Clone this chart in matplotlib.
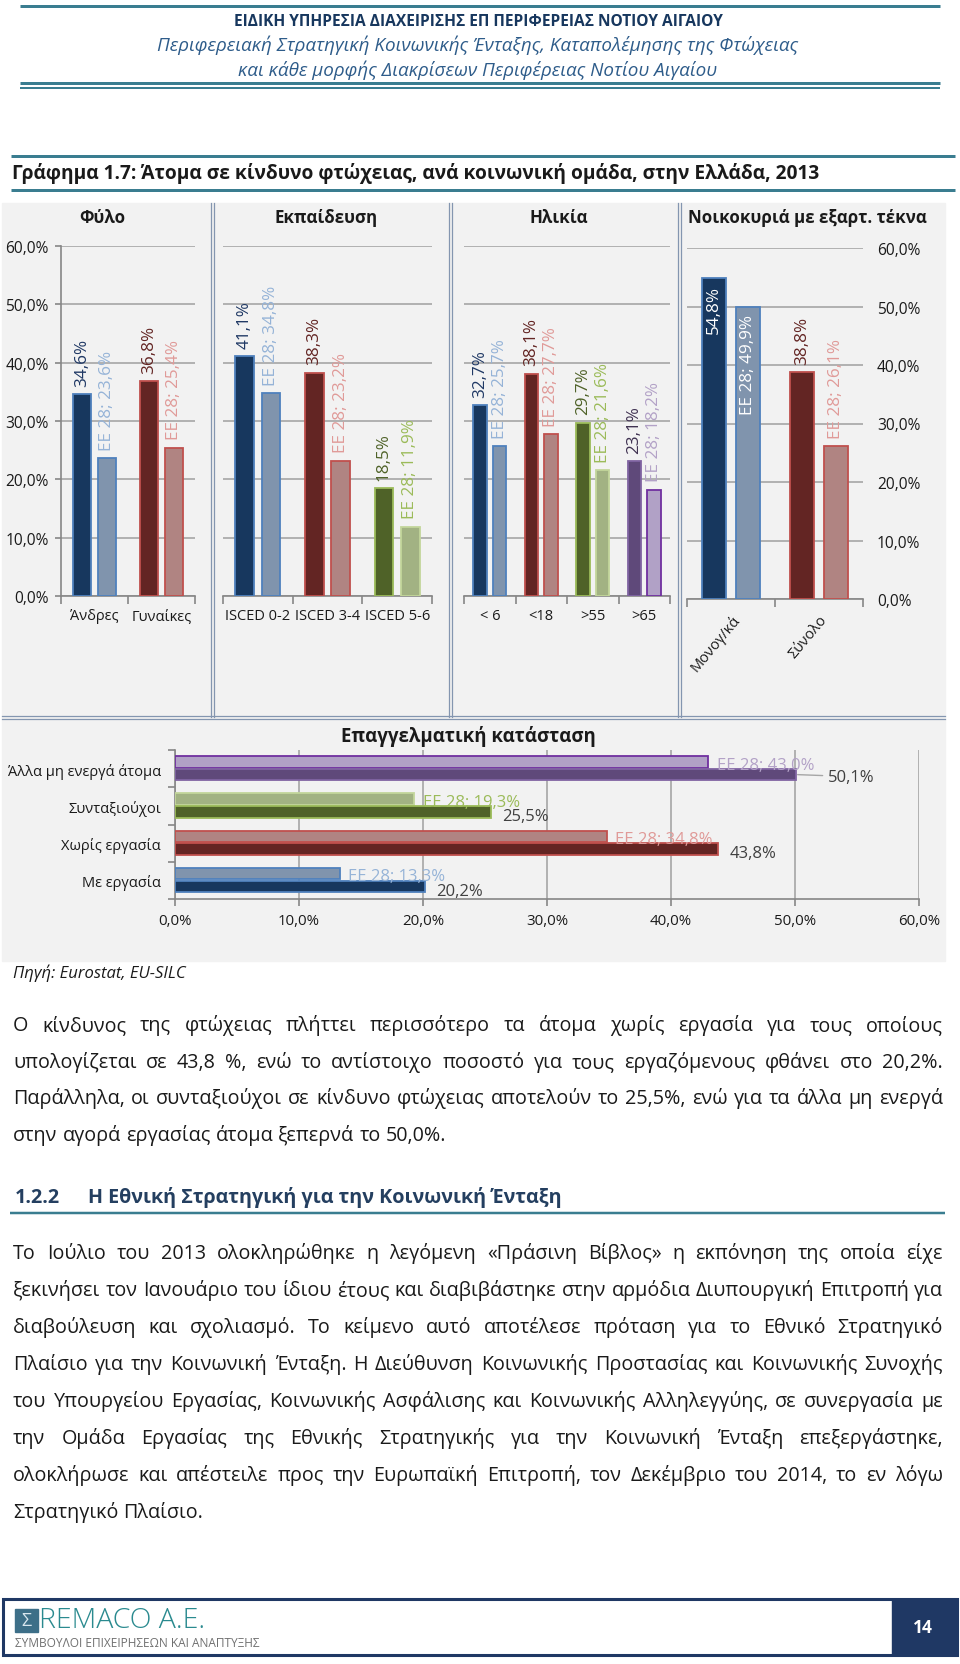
import numpy as np
import matplotlib.pyplot as plt
from matplotlib.patches import Rectangle
from matplotlib.ticker import FuncFormatter

plt.rcParams['font.family'] = ['Open Sans', 'DejaVu Sans']

W, H = 960, 1665

# ---- Δεδομένα (Ελλάδα / ΕΕ 28) ----
sex_labels = ['Άνδρες', 'Γυναίκες']
sex_gr = [34.6, 36.8]
sex_eu = [23.6, 25.4]

edu_labels = ['ISCED 0-2', 'ISCED 3-4', 'ISCED 5-6']
edu_gr = [41.1, 38.3, 18.5]
edu_eu = [34.8, 23.2, 11.9]

age_labels = ['< 6', '<18', '>55', '>65']
age_gr = [32.7, 38.1, 29.7, 23.1]
age_eu = [25.7, 27.7, 21.6, 18.2]

hh_labels = ['Μονογ/κά', 'Σύνολο']
hh_gr = [54.8, 38.8]
hh_eu = [49.9, 26.1]

work_labels = ['Με εργασία', 'Χωρίς εργασία', 'Συνταξιούχοι', 'Άλλα μη ενεργά άτομα']
work_gr = [20.2, 43.8, 25.5, 50.1]
work_eu = [13.3, 34.8, 19.3, 43.0]

# χρώματα ανά κατηγορία: μπλε, κόκκινο, πράσινο, μωβ
dark_fill = ['#17375e', '#632523', '#4f6228', '#5f497a']
dark_edge = ['#4f81bd', '#c0504d', '#9bbb59', '#8064a2']
light_fill = ['#8094ad', '#b08482', '#a2b283', '#b1a1c6']
light_edge = ['#4f81bd', '#c0504d', '#c3d69b', '#7030a0']
gr_text = ['#1f3864', '#632523', '#4f6228', '#3f3151']
eu_text = ['#95b3d7', '#e09a98', '#9bbb59', '#b3a2c7']

GRID = '#a6a6a6'
AXC = '#868686'
TEAL = '#3a7d90'
SEP = '#8496b0'
TXT = '#1a1a1a'


def pct(v, pos=None):
    return f'{v:.1f}%'.replace('.', ',')


fig = plt.figure(figsize=(W / 100, H / 100), dpi=100)

# σελίδα σε συντεταγμένες pixel
page = fig.add_axes([0, 0, 1, 1])
page.set_xlim(0, W)
page.set_ylim(H, 0)
page.axis('off')


def hline(y, x0, x1, lw, color=TEAL):
    page.plot([x0, x1], [y, y], color=color, lw=lw / 1.389, solid_capstyle='butt')


# κεφαλίδα
hline(7, 20, 940, 3)
page.text(478, 22, 'ΕΙΔΙΚΗ ΥΠΗΡΕΣΙΑ ΔΙΑΧΕΙΡΙΣΗΣ ΕΠ ΠΕΡΙΦΕΡΕΙΑΣ ΝΟΤΙΟΥ ΑΙΓΑΙΟΥ',
          ha='center', va='center', fontsize=11.2, fontweight='bold', color='#17375e')
page.text(478, 45, 'Περιφερειακή Στρατηγική Κοινωνικής Ένταξης, Καταπολέμησης της Φτώχειας',
          ha='center', va='center', fontsize=13.6, style='italic', color='#2e5c8a')
page.text(478, 70, 'και κάθε μορφής Διακρίσεων Περιφέρειας Νοτίου Αιγαίου',
          ha='center', va='center', fontsize=13.6, style='italic', color='#2e5c8a')
hline(84, 20, 940, 3)
hline(88.5, 20, 940, 2)

# τίτλος γραφήματος
hline(157, 11, 955, 3)
page.text(12, 174, 'Γράφημα 1.7: Άτομα σε κίνδυνο φτώχειας, ανά κοινωνική ομάδα, στην Ελλάδα, 2013',
          ha='left', va='center', fontsize=13.8, fontweight='bold', color=TXT)
hline(191, 11, 955, 3)

# γκρι φόντο γραφήματος
page.add_patch(Rectangle((2, 204), 943, 758, color='#f2f2f2', zorder=0))
for xs in [212, 450, 679]:
    for dx in (-1.5, 1.5):
        page.plot([xs + dx, xs + dx], [204, 718], color=SEP, lw=0.9)
for dy in (-1.5, 1.5):
    page.plot([2, 945], [718 + dy, 718 + dy], color=SEP, lw=0.9)

for x, t in [(102, 'Φύλο'), (326, 'Εκπαίδευση'), (559, 'Ηλικία'), (807, 'Νοικοκυριά με εξαρτ. τέκνα')]:
    page.text(x, 218, t, ha='center', va='center', fontsize=12.2, fontweight='bold', color=TXT)


def px_axes(x0, y0, x1, y1):
    ax = fig.add_axes([x0 / W, 1 - y1 / H, (x1 - x0) / W, (y1 - y0) / H])
    ax.patch.set_visible(False)
    return ax


def vbar_panel(box, labels, gr, eu, side=None, rotate=False):
    ax = px_axes(*box)
    n = len(labels)
    idx = np.arange(n)
    for i in idx:
        ax.bar(i - 0.19, gr[i], 0.27, color=dark_fill[i], edgecolor=dark_edge[i], lw=1.3, zorder=3)
        ax.bar(i + 0.19, eu[i], 0.27, color=light_fill[i], edgecolor=light_edge[i], lw=1.3, zorder=3)
        for x, v, t, c in [(i - 0.19, gr[i], pct(gr[i]), gr_text[i]),
                           (i + 0.19, eu[i], 'ΕΕ 28; ' + pct(eu[i]), eu_text[i])]:
            if v > 45:
                ax.annotate(t, (x, v), xytext=(0, -5), textcoords='offset points', rotation=90,
                            ha='center', va='top', fontsize=12.3, color='white', zorder=4)
            else:
                ax.annotate(t, (x, v), xytext=(0, 6), textcoords='offset points', rotation=90,
                            ha='center', va='bottom', fontsize=12.3, color=c, zorder=4)
    ax.set_xlim(-0.5, n - 0.5)
    ax.set_ylim(0, 60)
    ax.set_yticks(np.arange(0, 61, 10))
    ax.yaxis.set_major_formatter(FuncFormatter(pct))
    ax.set_axisbelow(True)
    ax.grid(axis='y', color=GRID, lw=1.2)
    for s in ['top', 'right', 'left']:
        ax.spines[s].set_visible(False)
    ax.spines['bottom'].set_color(AXC)
    ax.spines['bottom'].set_linewidth(1.2)
    ax.set_xticks(idx)
    ax.set_xticklabels(labels, fontsize=10.5, color=TXT)
    ax.set_xticks(np.arange(n + 1) - 0.5, minor=True)
    ax.tick_params(axis='x', which='major', length=0, pad=9)
    ax.tick_params(axis='x', which='minor', length=6, color=AXC, width=1.2)
    if rotate:
        plt.setp(ax.get_xticklabels(), rotation=50, ha='right', rotation_mode='anchor')
    ax.tick_params(axis='y', labelsize=11.2, labelcolor=TXT)
    if side == 'left':
        ax.spines['left'].set_visible(True)
        ax.spines['left'].set_color(AXC)
        ax.spines['left'].set_linewidth(1.2)
        ax.tick_params(axis='y', length=4, color=AXC, width=1.2, pad=5)
    elif side == 'right':
        ax.yaxis.tick_right()
        ax.tick_params(axis='y', length=0, pad=10)
    else:
        ax.tick_params(axis='y', length=0, labelleft=False)
    return ax


vbar_panel((61, 247, 195, 597), sex_labels, sex_gr, sex_eu, side='left')
vbar_panel((223, 247, 432, 597), edu_labels, edu_gr, edu_eu)
vbar_panel((464, 247, 670, 597), age_labels, age_gr, age_eu)
vbar_panel((687, 249, 863, 600), hh_labels, hh_gr, hh_eu, side='right', rotate=True)

# ---- Επαγγελματική κατάσταση (οριζόντιες μπάρες) ----
page.text(468, 737, 'Επαγγελματική κατάσταση', ha='center', va='center',
          fontsize=13.4, fontweight='bold', color=TXT)
bx = px_axes(175, 751, 919, 900)
ny = len(work_labels)
for i in range(ny):
    bx.barh(i + 0.18, work_eu[i], 0.31, color=light_fill[i], edgecolor=light_edge[i], lw=1.3, zorder=3)
    bx.barh(i - 0.16, work_gr[i], 0.31, color=dark_fill[i], edgecolor=dark_edge[i], lw=1.3, zorder=3)
    bx.annotate('ΕΕ 28; ' + pct(work_eu[i]), (work_eu[i], i + 0.18), xytext=(6, -2),
                textcoords='offset points', ha='left', va='center', fontsize=12, color=eu_text[i], zorder=4)
    if i == ny - 1:
        bx.annotate(pct(work_gr[i]), (work_gr[i], i - 0.16), xytext=(23, -2),
                    textcoords='offset points', ha='left', va='center', fontsize=12, color='#404040',
                    arrowprops=dict(arrowstyle='-', color=GRID, lw=1, relpos=(0, 0.6),
                                    shrinkA=2, shrinkB=1), zorder=4)
    else:
        bx.annotate(pct(work_gr[i]), (work_gr[i], i - 0.16), xytext=(8, -3),
                    textcoords='offset points', ha='left', va='center', fontsize=12, color='#404040', zorder=4)
bx.set_xlim(0, 60)
bx.set_ylim(-0.5, ny - 0.5)
bx.set_xticks(np.arange(0, 61, 10))
bx.xaxis.set_major_formatter(FuncFormatter(pct))
bx.set_axisbelow(True)
bx.grid(axis='x', color=GRID, lw=1.2)
for s in ['top', 'right']:
    bx.spines[s].set_visible(False)
for s in ['bottom', 'left']:
    bx.spines[s].set_color(AXC)
    bx.spines[s].set_linewidth(1.2)
bx.set_yticks(np.arange(ny))
bx.set_yticklabels(work_labels, fontsize=10.5, color=TXT)
bx.set_yticks(np.arange(ny + 1) - 0.5, minor=True)
bx.tick_params(axis='y', which='major', length=0, pad=10)
bx.tick_params(axis='y', which='minor', length=5, color=AXC, width=1.2)
bx.tick_params(axis='x', length=5, color=AXC, width=1.2, pad=5, labelsize=10.8, labelcolor=TXT)

page.text(13, 973, 'Πηγή: Eurostat, EU-SILC', ha='left', va='center', fontsize=12,
          style='italic', color=TXT)

# ---- Κείμενο με πλήρη στοίχιση ----
X0, X1 = 13, 943
renderer = fig.canvas.get_renderer()


def justified(lines, y0, dy, size=14.2):
    for k, line in enumerate(lines):
        y = y0 + k * dy + 5
        words = line.split()
        texts = [page.text(0, y, w, ha='left', va='baseline', fontsize=size, color=TXT)
                 for w in words]
        widths = [t.get_window_extent(renderer).width for t in texts]
        space = 0.26 * size * 1.389
        last = k == len(lines) - 1
        # αν η γραμμή δεν χωράει, μικραίνει λίγο η γραμματοσειρά
        need = sum(widths) + space * (len(words) - 1)
        if need > X1 - X0:
            f = (X1 - X0) / need
            for t in texts:
                t.set_fontsize(size * f)
            widths = [t.get_window_extent(renderer).width for t in texts]
            space *= f
        gap = space if last else (X1 - X0 - sum(widths)) / (len(words) - 1)
        x = X0
        for t, w in zip(texts, widths):
            t.set_x(x)
            x += w + gap


para1 = [
    'Ο κίνδυνος της φτώχειας πλήττει περισσότερο τα άτομα χωρίς εργασία για τους οποίους',
    'υπολογίζεται σε 43,8 %, ενώ το αντίστοιχο ποσοστό για τους εργαζόμενους φθάνει στο 20,2%.',
    'Παράλληλα, οι συνταξιούχοι σε κίνδυνο φτώχειας αποτελούν το 25,5%, ενώ για τα άλλα  μη ενεργά',
    'στην αγορά εργασίας άτομα ξεπερνά το 50,0%.',
]
para2 = [
    'Το Ιούλιο του 2013 ολοκληρώθηκε η λεγόμενη «Πράσινη Βίβλος» η εκπόνηση της οποία είχε',
    'ξεκινήσει τον Ιανουάριο του ίδιου έτους και διαβιβάστηκε στην αρμόδια Διυπουργική Επιτροπή για',
    'διαβούλευση και σχολιασμό. Το κείμενο αυτό αποτέλεσε πρόταση για το Εθνικό Στρατηγικό',
    'Πλαίσιο για την Κοινωνική Ένταξη. Η Διεύθυνση Κοινωνικής Προστασίας και Κοινωνικής Συνοχής',
    'του Υπουργείου Εργασίας, Κοινωνικής Ασφάλισης και Κοινωνικής Αλληλεγγύης,  σε συνεργασία με',
    'την Ομάδα Εργασίας της Εθνικής Στρατηγικής για την Κοινωνική Ένταξη επεξεργάστηκε,',
    'ολοκλήρωσε και απέστειλε προς την Ευρωπαϊκή Επιτροπή, τον Δεκέμβριο του 2014, το εν λόγω',
    'Στρατηγικό Πλαίσιο.',
]
justified(para1, 1026, 36.7)

page.text(X0 + 2, 1198, '1.2.2', ha='left', va='center', fontsize=14.2, fontweight='bold', color='#243f60')
page.text(88, 1198, 'Η Εθνική Στρατηγική για την Κοινωνική Ένταξη', ha='left', va='center',
          fontsize=14.2, fontweight='bold', color='#243f60')
hline(1214, 10, 945, 2.5)

justified(para2, 1254, 37)

# ---- Υποσέλιδο ----
page.add_patch(Rectangle((3, 1600), 954, 56, fill=False, edgecolor='#1f3864', lw=2.2))
page.add_patch(Rectangle((892, 1600), 65, 56, color='#1f3864'))
page.text(923, 1628, '14', ha='center', va='center', fontsize=12.5, fontweight='bold', color='white')
page.add_patch(Rectangle((15, 1610), 23, 23, color='#3d6f88'))
page.text(26.5, 1621.5, 'Σ', ha='center', va='center', fontsize=13, color='#d8e6ee')
page.text(39, 1621, 'REMACO A.E.', ha='left', va='center', fontsize=20.5, fontweight='light', color='#2a8a8f')
page.text(15, 1644, 'ΣΥΜΒΟΥΛΟΙ ΕΠΙΧΕΙΡΗΣΕΩΝ ΚΑΙ ΑΝΑΠΤΥΞΗΣ', ha='left', va='center',
          fontsize=8.6, color='#707070')

fig.savefig('out.png', dpi=100)
